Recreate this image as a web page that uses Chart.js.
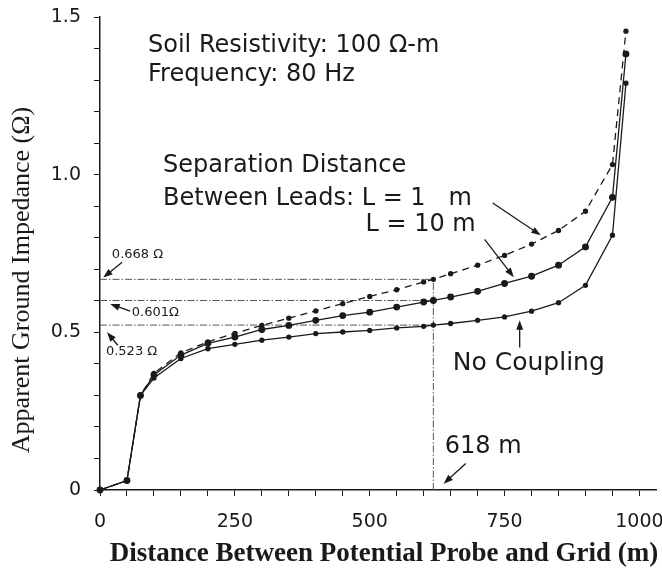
<!DOCTYPE html>
<html>
<head>
<meta charset="utf-8">
<script src="https://cdn.jsdelivr.net/npm/chart.js@4.4.1/dist/chart.umd.min.js"></script>
<style>
  html, body { margin: 0; padding: 0; background: #fff; }
</style>
</head>
<body>
<canvas id="impedance-chart" width="662" height="572"></canvas>
<script>
// distance between potential probe and grid (m)
const distances = [0, 50, 75, 100, 150, 200, 250, 300, 350, 400, 450, 500, 550, 600, 618, 650, 700, 750, 800, 850, 900, 950, 975];
// apparent ground impedance (ohm)
const impedanceL1 = [0, 0.03, 0.30, 0.37, 0.435, 0.47, 0.497, 0.522, 0.545, 0.568, 0.591, 0.614, 0.635, 0.66, 0.668, 0.686, 0.713, 0.744, 0.78, 0.823, 0.884, 1.032, 1.455];
const impedanceL10 = [0, 0.03, 0.30, 0.365, 0.428, 0.465, 0.485, 0.509, 0.522, 0.538, 0.553, 0.564, 0.58, 0.596, 0.601, 0.612, 0.63, 0.655, 0.678, 0.713, 0.771, 0.928, 1.383];
const impedanceNoCoupling = [0, 0.03, 0.30, 0.355, 0.417, 0.448, 0.462, 0.475, 0.485, 0.496, 0.501, 0.506, 0.514, 0.519, 0.523, 0.528, 0.538, 0.549, 0.567, 0.594, 0.649, 0.808, 1.29];

const xLabelTicks = [0, 250, 500, 750, 1000];
const yLabelTicks = [0, 0.5, 1.0, 1.5];
const yLabelText = ["0", "0.5", "1.0", "1.5"];

// reading at 618 m
const crossDistance = 618;
const crossImpedances = [0.668, 0.601, 0.523];

const ink = "#1a1a1a";
const sans = "'DejaVu Sans', sans-serif";
const serif = "'Liberation Serif', 'DejaVu Serif', serif";

function toPoints(ys) {
  return distances.map((d, i) => ({ x: d, y: ys[i] }));
}

function arrow(ctx, x1, y1, x2, y2) {
  const ang = Math.atan2(y2 - y1, x2 - x1);
  const head = 10;
  ctx.beginPath();
  ctx.moveTo(x1, y1);
  ctx.lineTo(x2 - Math.cos(ang) * head * 0.8, y2 - Math.sin(ang) * head * 0.8);
  ctx.stroke();
  ctx.beginPath();
  ctx.moveTo(x2, y2);
  ctx.lineTo(x2 - head * Math.cos(ang - 0.35), y2 - head * Math.sin(ang - 0.35));
  ctx.lineTo(x2 - head * Math.cos(ang + 0.35), y2 - head * Math.sin(ang + 0.35));
  ctx.closePath();
  ctx.fill();
}

const refLines = {
  id: "refLines",
  beforeDatasetsDraw(chart) {
    const { ctx, scales: { x, y } } = chart;
    ctx.save();
    ctx.strokeStyle = "#555";
    ctx.lineWidth = 1;
    ctx.setLineDash([7, 2, 1.5, 2]);
    crossImpedances.forEach(v => {
      ctx.beginPath();
      ctx.moveTo(x.getPixelForValue(0), y.getPixelForValue(v));
      ctx.lineTo(x.getPixelForValue(crossDistance), y.getPixelForValue(v));
      ctx.stroke();
    });
    ctx.beginPath();
    ctx.moveTo(x.getPixelForValue(crossDistance), y.getPixelForValue(0));
    ctx.lineTo(x.getPixelForValue(crossDistance), y.getPixelForValue(crossImpedances[0]));
    ctx.stroke();
    ctx.restore();
  },
  afterDraw(chart) {
    const { ctx, scales: { x, y } } = chart;
    const px = v => x.getPixelForValue(v);
    const py = v => y.getPixelForValue(v);
    ctx.save();
    ctx.fillStyle = ink;
    ctx.strokeStyle = ink;
    ctx.lineWidth = 1.3;
    ctx.textBaseline = "middle";
    ctx.textAlign = "left";

    ctx.font = "24px " + sans;
    ctx.fillText("Soil Resistivity: 100 \u03A9-m", px(89), py(1.41));
    ctx.fillText("Frequency: 80 Hz", px(89), py(1.316));
    ctx.fillText("Separation Distance", px(117), py(1.027));
    ctx.fillText("Between Leads: L = 1   m", px(117), py(0.925));
    ctx.fillText("L = 10 m", px(492), py(0.84));
    ctx.fillText("618 m", px(639), py(0.138));
    ctx.font = "25px " + sans;
    ctx.fillText("No Coupling", px(654), py(0.402));

    ctx.font = "13px " + sans;
    ctx.fillText("0.668 \u03A9", px(22), py(0.745));
    ctx.fillText("0.601\u03A9", px(59), py(0.563));
    ctx.fillText("0.523 \u03A9", px(11), py(0.44));

    arrow(ctx, px(728), py(0.91), px(817), py(0.808));
    arrow(ctx, px(713), py(0.795), px(767), py(0.675));
    arrow(ctx, px(778), py(0.452), px(778), py(0.538));
    arrow(ctx, px(678), py(0.084), px(637), py(0.02));
    arrow(ctx, px(41), py(0.722), px(6), py(0.674));
    arrow(ctx, px(56), py(0.567), px(19), py(0.59));
    arrow(ctx, px(33), py(0.459), px(13), py(0.5));

    // axis titles, placed by hand where the original has them
    ctx.textAlign = "center";
    ctx.font = "bold 27px " + serif;
    ctx.fillText("Distance Between Potential Probe and Grid (m)", 384, 554);
    ctx.translate(22, 280);
    ctx.rotate(-Math.PI / 2);
    ctx.font = "26px " + serif;
    ctx.fillText("Apparent Ground Impedance (\u03A9)", 0, 0);
    ctx.restore();
  }
};

const lineStyle = {
  borderColor: ink,
  backgroundColor: ink,
  borderWidth: 1.3,
  pointStyle: "circle",
  tension: 0,
  clip: 8
};

const config = {
  type: "line",
  data: {
    datasets: [
      Object.assign({ label: "L = 1 m", data: toPoints(impedanceL1), borderDash: [7, 5], pointRadius: 2 }, lineStyle),
      Object.assign({ label: "L = 10 m", data: toPoints(impedanceL10), pointRadius: 2.8 }, lineStyle),
      Object.assign({ label: "No Coupling", data: toPoints(impedanceNoCoupling), pointRadius: 2 }, lineStyle)
    ]
  },
  options: {
    responsive: false,
    animation: false,
    layout: { padding: { top: 17, right: 0, left: 0, bottom: 0 } },
    plugins: {
      legend: { display: false },
      tooltip: { enabled: false }
    },
    scales: {
      x: {
        type: "linear",
        min: 0,
        max: 1032,
        afterFit: s => {
          s.height = 82;
          s.paddingLeft = 0;
          s.paddingRight = 0;
        },
        afterBuildTicks: s => {
          const t = [];
          for (let v = 0; v <= 1000; v += 50) t.push({ value: v });
          s.ticks = t;
        },
        ticks: {
          autoSkip: false,
          maxRotation: 0,
          padding: 15,
          color: ink,
          font: { family: sans, size: 19 },
          callback: v => (xLabelTicks.includes(v) ? String(v) : "")
        },
        grid: { drawOnChartArea: false, drawTicks: true, tickLength: 6, color: ink, lineWidth: 1 },
        border: { display: true, color: ink, width: 1.5 }
      },
      y: {
        min: 0,
        max: 1.5,
        afterFit: s => {
          s.width = 100;
          s.paddingTop = 0;
          s.paddingBottom = 0;
        },
        afterBuildTicks: s => {
          const t = [];
          for (let i = 0; i <= 15; i++) t.push({ value: i / 10 });
          s.ticks = t;
        },
        ticks: {
          autoSkip: false,
          padding: 13,
          color: ink,
          font: { family: sans, size: 19 },
          callback: v => {
            const k = yLabelTicks.findIndex(t => Math.abs(t - v) < 1e-6);
            return k >= 0 ? yLabelText[k] : "";
          }
        },
        grid: { drawOnChartArea: false, drawTicks: true, tickLength: 6, color: ink, lineWidth: 1 },
        border: { display: true, color: ink, width: 1.5 }
      }
    }
  },
  plugins: [refLines]
};

new Chart(document.getElementById("impedance-chart").getContext("2d"), config);
</script>
</body>
</html>
